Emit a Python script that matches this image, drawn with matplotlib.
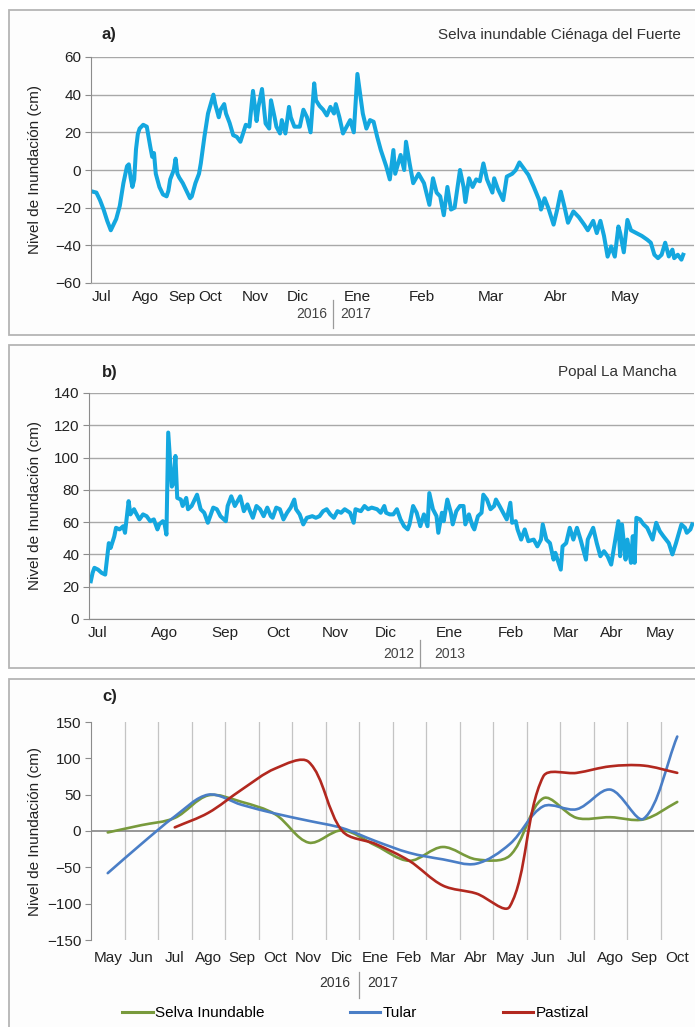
import matplotlib.pyplot as plt
from matplotlib.path import Path
from matplotlib.patches import PathPatch, Rectangle
from matplotlib.lines import Line2D
import numpy as np

plt.rcParams['font.family'] = ['Liberation Sans Narrow', 'Liberation Sans', 'DejaVu Sans']

W, H = 695, 1027

# a) Selva inundable Ciénaga del Fuerte (jul 2016 - may 2017), nivel diario
dias_a = [1, 3, 5, 7, 9, 11, 12, 14, 16, 18, 20, 21, 22, 23, 24, 25, 26, 27, 29, 31,
          33, 34, 35, 36, 38, 40, 42, 43, 44, 46, 47, 48, 49, 51, 53, 55, 56, 58, 60, 61,
          63, 65, 68, 69, 71, 72, 74, 75, 77, 79, 81, 83, 85, 86, 88, 90, 92, 93, 95, 97,
          99, 100, 102, 103, 105, 106, 108, 110, 111, 113, 116, 118, 120, 122, 124, 125, 127, 129, 131, 133,
          135, 136, 138, 140, 142, 144, 146, 148, 149, 151, 153, 155, 157, 159, 161,
          164, 166, 168, 169, 172, 174, 175, 177, 179, 182, 185, 188, 190, 192, 194, 196, 198, 200, 202, 205,
          207, 208, 210, 212, 214, 216, 218, 220, 223, 224, 226, 229, 231, 234, 236, 238, 241, 243, 246, 249,
          250, 252, 254, 257, 259, 261, 263, 265, 268, 271, 274, 276, 279, 281, 283, 285, 287, 289, 291, 293,
          294, 296, 298, 300, 303, 306, 309, 311, 313, 315, 317, 319, 321, 323, 324, 326, 328, 329]
nivel_a = [-11.5, -12, -16, -21, -27, -32, -30, -26, -19, -7, 2, 3, -4, -9, -5, 11, 19, 22, 24, 23,
           12, 7, 9, -2, -9, -13, -14, -11, -5, 0, 6, -2, -4, -7, -11, -15, -14, -7, -2, 3.5,
           17.6, 30, 40, 35, 28, 32, 35, 30, 25, 18.5, 17.6, 15, 21, 24, 23, 42, 26, 33.5, 43, 24.7,
           22, 37, 28, 23, 19.4, 26.5, 19.4, 33.5, 28, 23, 23, 32, 28, 20, 46, 37, 34, 32, 29, 33.5,
           30, 35, 28, 19.4, 23, 26.5, 20, 51, 44, 30, 22, 26.5, 25.6, 17.6, 10.6,
           2, -5, 10.6, -2, 8, 0, 15, 3.5, -7, -2, -7, -18.5, -4.4, -12, -14, -24, -9, -21, -20, 0,
           -9, -17, -4.4, -9, -5, -6, 3.5, -5, -12, -4.4, -10, -16, -3.5, -2, 0, 4, 0, -2.6, -9, -16,
           -21, -15, -20, -29, -21, -11.5, -19.4, -28, -22, -25, -29, -32, -27, -33.5, -27, -35, -46, -40.6, -46, -30,
           -33.5, -43.7, -26.5, -32, -33.5, -35, -37, -38.6, -45, -46.8, -45, -38.6, -45.9, -42.3, -46.8, -45, -47.6, -45]
meses_a = ['Jul', 'Ago', 'Sep', 'Oct', 'Nov', 'Dic', 'Ene', 'Feb', 'Mar', 'Abr', 'May']
dia_mes_a = [5.6, 30, 50.6, 66, 91, 115, 148, 184, 222, 258, 297]
anios_a = ['2016', '2017']

# b) Popal La Mancha (jul 2012 - may 2013), nivel diario
dias_b = [1, 2, 3, 5, 7, 9, 11, 12, 14, 15, 17, 19, 20, 22, 23, 25, 26, 28, 30, 32,
          34, 36, 38, 39, 41, 42, 43, 44, 46, 47, 48, 49, 51, 52, 54, 55, 57, 60, 62, 64,
          66, 69, 71, 73, 76, 77, 79, 81, 84, 86, 88, 89, 91, 93, 95, 97, 99, 101, 102, 104,
          106, 108, 110, 112, 114, 115, 117, 119, 121, 124, 126, 128, 130, 132, 134, 136, 138, 140, 142, 145,
          147, 148, 151, 153, 155, 157, 160, 162,
          164, 165, 167, 169, 171, 173, 175, 177, 178, 180, 182, 184, 186, 188, 189, 191, 193, 194, 196, 197,
          199, 201, 202, 204, 206, 208, 209, 211, 213, 214, 216, 218, 219, 221, 223, 225, 226, 228, 230, 232,
          234, 235, 237, 238, 240, 242, 244, 247, 249, 251, 252, 254, 256, 258, 259, 262, 263, 265, 267, 269,
          271, 273, 276, 277, 280, 282, 284, 286, 288, 290, 292, 294, 295, 296, 298, 299, 301, 302, 303, 304,
          306, 308, 310, 313, 315, 317, 319, 322, 324, 326, 329, 331, 332, 334, 335]
nivel_b = [23.4, 28.6, 31.7, 30.6, 28.6, 27.5, 47, 44, 51, 56.5, 55.5, 57.5, 53.4, 73, 64.8, 68, 65.8, 61.7, 64.8, 63.7,
           60.6, 61.7, 55.5, 58.6, 60.6, 58.6, 52.3, 115.5, 82, 84.4, 101, 75, 74, 70, 75, 68, 70, 77, 68, 65.8,
           59.6, 69, 68, 63.7, 60.6, 70, 76, 70, 76, 66.8, 71, 68, 62.7, 70, 68, 63.7, 69, 63.7, 62.7, 69,
           68, 61.7, 65.8, 69, 74, 68, 64.8, 58.6, 62.7, 63.7, 62.7, 63.7, 66.8, 68, 64.8, 62.7, 66.8, 65.8, 68, 65.8,
           59.6, 68, 66.8, 70, 68, 69, 68, 65.8,
           70, 65.8, 64.8, 64.8, 68, 61.7, 57.5, 55.5, 58.6, 70, 65.8, 57.5, 64.8, 57.5, 78, 68, 63.7, 53.4, 65.8, 60.6,
           74, 65.8, 58.6, 66.8, 70, 70, 58.6, 64.8, 57.5, 55.5, 63.7, 65.8, 77, 74, 68, 70, 74, 70, 65.8, 61.7,
           72, 59.6, 60.6, 55.5, 49.2, 55.5, 48.2, 49.2, 45, 49.2, 58.6, 49.2, 47, 36.8, 41, 30.6, 45, 47, 56.5, 49.2,
           56.5, 49.2, 36.8, 49.2, 56.5, 47, 38.9, 42, 38.9, 33.7, 47, 60.6, 38.9, 58.6, 36.8, 49.2, 34.8, 51.3, 34.8, 62.7,
           61.7, 58.6, 56.5, 49.2, 59.6, 54.4, 51.3, 47, 40, 47, 58.6, 56.5, 53.4, 55.5, 58.6]
meses_b = ['Jul', 'Ago', 'Sep', 'Oct', 'Nov', 'Dic', 'Ene', 'Feb', 'Mar', 'Abr', 'May']
dia_mes_b = [5, 42, 75.6, 105, 136.7, 165, 200, 234.4, 265, 290.6, 317]
anios_b = ['2012', '2013']

# c) promedio mensual por tipo de humedal (may 2016 - oct 2017)
meses_c = ['May', 'Jun', 'Jul', 'Ago', 'Sep', 'Oct', 'Nov', 'Dic', 'Ene',
           'Feb', 'Mar', 'Abr', 'May', 'Jun', 'Jul', 'Ago', 'Sep', 'Oct']
selva = [-2, 8, 18, 49, 40, 23, -16, 1, -20, -41, -22, -39, -34, 45, 18, 19, 16, 40]
tular = [-58, -18, 20, 50, 36, 24, 14, 4, -14, -30, -39, -45, -18, 34, 30, 57, 17, 130]
pastizal = [5, 25, 57, 86, 95, 0, -18, -41, -75, -86, -104, 75, 80, 89, 90, 80]
anios_c = ['2016', '2017']

azul_serie = '#14A7DF'
gris_grid = '#A8A8A8'
gris_eje = '#8C8C8C'
fs = 11


def fx(px):
    return px / W


def fy(py):
    return 1 - py / H


def curva_suave(ax, x, y, tension=1 / 3):
    # línea suavizada: Bezier cúbicas con asas proporcionales a la longitud de cada tramo
    # (se calcula en pixeles para que la forma no dependa de la escala de los ejes)
    pts = ax.transData.transform(np.column_stack([x, y]).astype(float))
    n = len(pts)
    ant = np.zeros_like(pts)
    sig = np.zeros_like(pts)
    for i in range(n):
        p0 = pts[max(i - 1, 0)]
        p2 = pts[min(i + 1, n - 1)]
        d01 = np.hypot(*(pts[i] - p0))
        d12 = np.hypot(*(p2 - pts[i]))
        tot = d01 + d12
        if tot == 0:
            continue
        ant[i] = pts[i] - tension * d01 / tot * (p2 - p0)
        sig[i] = pts[i] + tension * d12 / tot * (p2 - p0)
    verts = [pts[0]]
    codes = [Path.MOVETO]
    for i in range(n - 1):
        verts += [sig[i], ant[i + 1], pts[i + 1]]
        codes += [Path.CURVE4] * 3
    verts = ax.transData.inverted().transform(np.array(verts))
    return Path(verts, codes)


def ejes_base(ax):
    for s in ['top', 'right']:
        ax.spines[s].set_visible(False)
    ax.spines['left'].set_color(gris_eje)
    ax.tick_params(axis='y', length=4, color=gris_eje, labelsize=fs, pad=3, labelcolor='#222222')
    ax.tick_params(axis='x', length=0, labelsize=fs, pad=5, labelcolor='#222222')
    ax.set_ylabel('Nivel de Inundación (cm)', fontsize=fs, color='#222222')


fig = plt.figure(figsize=(W / 100, H / 100), dpi=100)

# marcos de cada panel
for top, bot in [(10, 335), (345, 668), (679, 1040)]:
    fig.patches.append(Rectangle((fx(9), fy(bot)), fx(700), (bot - top) / H,
                                 transform=fig.transFigure, facecolor='#FDFDFD',
                                 edgecolor='#B5B5B5', lw=1.3, zorder=-5))

# ---- panel a
ax_a = fig.add_axes([fx(91), fy(283), fx(603), 226 / H])
ax_a.set_facecolor('none')
ax_a.plot(dias_a, nivel_a, color=azul_serie, lw=2.9, solid_joinstyle='round')
ax_a.set_xlim(0, 335)
ax_a.set_ylim(-60, 60)
ax_a.set_yticks(range(-60, 61, 20))
ax_a.set_xticks(dia_mes_a, meses_a)
ax_a.grid(axis='y', color=gris_grid, lw=1.0)
ejes_base(ax_a)
ax_a.spines['bottom'].set_color(gris_grid)
ax_a.yaxis.set_label_coords((42 - 91) / 603, 0.5)

fig.text(fx(102), fy(35), 'a)', fontsize=12, fontweight='bold', va='center', color='#222222')
fig.text(fx(681), fy(35), 'Selva inundable Ciénaga del Fuerte', fontsize=fs, ha='right',
         va='center', color='#333333')
fig.text(fx(327), fy(314), anios_a[0], fontsize=10, ha='right', va='center', color='#444444')
fig.text(fx(340), fy(314), anios_a[1], fontsize=10, ha='left', va='center', color='#444444')
fig.lines.append(Line2D([fx(333), fx(333)], [fy(300), fy(328)], transform=fig.transFigure,
                        color='#9A9A9A', lw=0.9))

# ---- panel b
ax_b = fig.add_axes([fx(89), fy(619), fx(605), 226 / H])
ax_b.set_facecolor('none')
ax_b.plot(dias_b, nivel_b, color=azul_serie, lw=2.9, solid_joinstyle='round')
ax_b.set_xlim(0, 336)
ax_b.set_ylim(0, 140)
ax_b.set_yticks(range(0, 141, 20))
ax_b.set_xticks(dia_mes_b, meses_b)
ax_b.grid(axis='y', color=gris_grid, lw=1.0)
ejes_base(ax_b)
ax_b.spines['bottom'].set_color(gris_eje)
ax_b.yaxis.set_label_coords((42 - 89) / 605, 0.5)

fig.text(fx(102), fy(372), 'b)', fontsize=12, fontweight='bold', va='center', color='#222222')
fig.text(fx(677), fy(372), 'Popal La Mancha', fontsize=fs, ha='right', va='center', color='#333333')
fig.text(fx(414), fy(654), anios_b[0], fontsize=10, ha='right', va='center', color='#444444')
fig.text(fx(434), fy(654), anios_b[1], fontsize=10, ha='left', va='center', color='#444444')
fig.lines.append(Line2D([fx(420), fx(420)], [fy(640), fy(667)], transform=fig.transFigure,
                        color='#9A9A9A', lw=0.9))

# ---- panel c
ax_c = fig.add_axes([fx(91), fy(940), fx(603), 218 / H])
ax_c.set_facecolor('none')
x_c = np.arange(len(meses_c))
ax_c.set_xlim(-0.5, len(meses_c) - 0.5)
ax_c.set_ylim(-150, 150)
colores_c = ['#789A3C', '#4A7EC6', '#B2281F']
series_c = [('Selva Inundable', x_c, selva), ('Tular', x_c, tular), ('Pastizal', x_c[2:], pastizal)]
for (nombre, xs, ys), col in zip(series_c, colores_c):
    ax_c.add_patch(PathPatch(curva_suave(ax_c, xs, ys), facecolor='none', edgecolor=col, lw=1.9,
                             capstyle='round', joinstyle='round', zorder=3))
ax_c.set_yticks(range(-150, 151, 50))
ax_c.set_xticks(x_c, meses_c)
ax_c.set_xticks(np.arange(0.5, len(meses_c) - 0.5, 1), minor=True)
ax_c.tick_params(axis='x', which='minor', length=0)
ax_c.grid(axis='x', which='minor', color='#C4C4C4', lw=0.9)
ax_c.axhline(0, color='#7A7A7A', lw=1.1, zorder=2)
ejes_base(ax_c)
ax_c.spines['bottom'].set_visible(False)
ax_c.tick_params(axis='x', pad=8)
ax_c.yaxis.set_label_coords((42 - 91) / 603, 0.5)

fig.text(fx(102), fy(697), 'c)', fontsize=12, fontweight='bold', va='center', color='#222222')
fig.text(fx(350), fy(983), anios_c[0], fontsize=10, ha='right', va='center', color='#333333')
fig.text(fx(367), fy(983), anios_c[1], fontsize=10, ha='left', va='center', color='#333333')
fig.lines.append(Line2D([fx(359), fx(359)], [fy(972), fy(998)], transform=fig.transFigure,
                        color='#9A9A9A', lw=0.9))

manejadores = [Line2D([], [], color=c, lw=2.2) for c in colores_c]
fig.legend(manejadores, [s[0] for s in series_c], loc='center left',
           bbox_to_anchor=(fx(122), fy(1013)), ncol=3, frameon=False, fontsize=fs,
           handlelength=2.0, handletextpad=0.15, columnspacing=5.6, borderpad=0, borderaxespad=0)

fig.savefig('out.png', dpi=100)
